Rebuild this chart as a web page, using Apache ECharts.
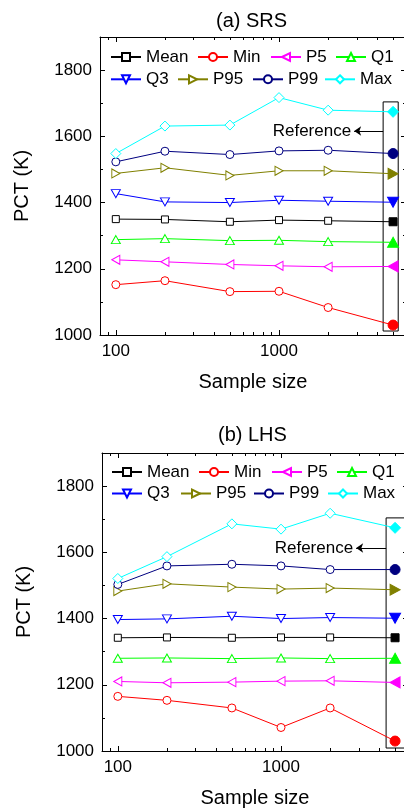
<!DOCTYPE html>
<html><head><meta charset="utf-8">
<script src="https://cdn.jsdelivr.net/npm/echarts@6/dist/echarts.min.js"></script>
<style>html,body{margin:0;padding:0;background:#fff}#c{width:404px;height:811px}</style>
</head><body><div id="c"></div>
<script>
// ---- data ----
const sampleSizes = [100, 200, 500, 1000, 2000];
const referenceSize = 5000;
const seriesNames = ['Mean', 'Min', 'P5', 'Q1', 'Q3', 'P95', 'P99', 'Max'];
const referenceValues = [1342, 1030, 1207, 1280, 1401, 1487, 1548, 1674];

const srsMean = [1350, 1349, 1342, 1347, 1345];
const srsMin  = [1152, 1164, 1131, 1132, 1083];
const srsP5   = [1227, 1221, 1213, 1209, 1206];
const srsQ1   = [1288, 1291, 1285, 1286, 1282];
const srsQ3   = [1427, 1402, 1400, 1407, 1404];
const srsP95  = [1488, 1505, 1482, 1496, 1496];
const srsP99  = [1523, 1555, 1545, 1556, 1558];
const srsMax  = [1548, 1631, 1634, 1717, 1679];

const lhsMean = [1342, 1343, 1342, 1343, 1343];
const lhsMin  = [1165, 1153, 1130, 1071, 1130];
const lhsP5   = [1210, 1206, 1208, 1211, 1212];
const lhsQ1   = [1280, 1281, 1279, 1281, 1279];
const lhsQ3   = [1397, 1399, 1407, 1400, 1403];
const lhsP95  = [1483, 1505, 1495, 1489, 1492];
const lhsP99  = [1503, 1559, 1564, 1559, 1548];
const lhsMax  = [1521, 1587, 1686, 1670, 1718];

const panelTitles = ['(a) SRS', '(b) LHS'];
const xMajorTicks = [100, 1000];
const xMinorTicks = [90, 200, 300, 400, 500, 600, 700, 800, 900, 2000, 3000, 4000, 5000];
const yMajorTicks = [1000, 1200, 1400, 1600, 1800];
const yMinorTicks = [1100, 1300, 1500, 1700];
const referenceLabel = 'Reference';

// ---- styles / layout ----
const FONT = 'Liberation Sans, Arial, Helvetica, sans-serif';
const colors = ['#000000', '#ff0000', '#ff00ff', '#00ff00', '#0000ff', '#808000', '#000080', '#00ffff'];
const symbols = ['rect', 'circle', 'triangle', 'triangle', 'triangle', 'triangle', 'circle', 'diamond'];
const rotates = [0, 0, 90, 0, 180, -90, 0, 0];
const sizes = [7, 8, [9, 8], [9, 8], [9, 8], [9, 8], 8, 10];
const refSizes = [8, 10, [11, 10], [11, 10], [11, 10], [11, 10], 10, 11];

const panelData = [
  [srsMean, srsMin, srsP5, srsQ1, srsQ3, srsP95, srsP99, srsMax],
  [lhsMean, lhsMin, lhsP5, lhsQ1, lhsQ3, lhsP95, lhsP99, lhsMax]
];
const grids = [
  { left: 100, top: 37, width: 306, height: 298, outerBoundsMode: 'none', containLabel: false },
  { left: 102, top: 453, width: 306, height: 298, outerBoundsMode: 'none', containLabel: false }
];
const titlePos = [{ left: 216, top: 11 }, { left: 218, top: 425 }];
const legendLeft = [
  [110, 197, 270, 335, 110, 177, 252, 324],
  [111, 198, 271, 336, 111, 180, 253, 327]
];
const legendTop = [[48.5, 70.8], [463.5, 485]];
const boxes = [
  [[4345, 1012], [5375, 1704]],
  [[4405, 1009], [6000, 1704]]
];
const arrows = [
  [[4345, 1616], [2886, 1616]],
  [[4405, 1613], [2886, 1613]]
];

const option = {
  animation: false,
  backgroundColor: '#fff',
  title: [], grid: [], xAxis: [], yAxis: [], legend: [], series: []
};

const plain = v => String(v);
const black = { color: '#000', width: 1 };
panelData.forEach((data, p) => {
  option.title.push({
    text: panelTitles[p], left: titlePos[p].left, top: titlePos[p].top, padding: 0,
    textStyle: { fontSize: 20, fontWeight: 'normal', color: '#000', fontFamily: FONT }
  });
  option.grid.push(Object.assign({}, grids[p]));
  option.grid.push(Object.assign({}, grids[p]));
  const gMain = 2 * p, gOver = 2 * p + 1;
  const xBase = { type: 'log', logBase: 10, min: 80, max: 6000, splitLine: { show: false } };
  option.xAxis.push(Object.assign({}, xBase, {
    gridIndex: gMain, position: 'bottom',
    axisLine: { show: true, lineStyle: black },
    axisTick: { show: true, inside: true, length: 5, customValues: xMajorTicks, lineStyle: black },
    axisLabel: { show: true, customValues: xMajorTicks, formatter: plain, fontSize: 17, color: '#000', margin: 8, fontFamily: FONT },
    name: 'Sample size', nameLocation: 'middle', nameGap: 37,
    nameTextStyle: { fontSize: 20, color: '#000', fontFamily: FONT }
  }));
  option.xAxis.push(Object.assign({}, xBase, {
    gridIndex: gMain, position: 'top',
    axisLine: { show: true, lineStyle: black },
    axisTick: { show: true, inside: true, length: 5, customValues: xMajorTicks, lineStyle: black },
    axisLabel: { show: false }
  }));
  ['bottom', 'top'].forEach(pos => {
    option.xAxis.push(Object.assign({}, xBase, {
      gridIndex: gOver, position: pos,
      axisLine: { show: false },
      axisTick: { show: true, inside: true, length: 3, customValues: xMinorTicks, lineStyle: black },
      axisLabel: { show: false }
    }));
  });
  const yBase = { type: 'value', min: 1000, max: 1900, splitLine: { show: false } };
  option.yAxis.push(Object.assign({}, yBase, {
    gridIndex: gMain, position: 'left',
    axisLine: { show: true, lineStyle: black },
    axisTick: { show: true, inside: true, length: 5, customValues: yMajorTicks, lineStyle: black },
    axisLabel: { show: true, customValues: yMajorTicks, formatter: plain, fontSize: 17, color: '#000', margin: 8, fontFamily: FONT },
    name: 'PCT (K)', nameLocation: 'middle', nameGap: 68,
    nameTextStyle: { fontSize: 20, color: '#000', fontFamily: FONT }
  }));
  option.yAxis.push(Object.assign({}, yBase, {
    gridIndex: gMain, position: 'right',
    axisLine: { show: true, lineStyle: black },
    axisTick: { show: true, inside: true, length: 5, customValues: yMajorTicks, lineStyle: black },
    axisLabel: { show: false }
  }));
  ['left', 'right'].forEach(pos => {
    option.yAxis.push(Object.assign({}, yBase, {
      gridIndex: gOver, position: pos,
      axisLine: { show: false },
      axisTick: { show: true, inside: true, length: 3, customValues: yMinorTicks, lineStyle: black },
      axisLabel: { show: false }
    }));
  });

  seriesNames.forEach((name, i) => {
    const c = colors[i];
    const pts = sampleSizes.map((x, k) => [x, data[i][k]]);
    pts.push({
      value: [referenceSize, referenceValues[i]],
      symbolSize: refSizes[i],
      itemStyle: { color: c, borderColor: c, borderWidth: 1 }
    });
    const s = {
      type: 'line', name: name,
      xAxisIndex: 4 * p, yAxisIndex: 4 * p,
      data: pts,
      symbol: symbols[i], symbolSize: sizes[i], symbolRotate: rotates[i],
      showAllSymbol: true,
      itemStyle: { color: '#fff', borderColor: c, borderWidth: 1 },
      lineStyle: { color: c, width: 1 },
      emphasis: { disabled: true }
    };
    if (i === 0) {
      s.markArea = {
        silent: true,
        itemStyle: { color: 'rgba(0,0,0,0)', borderColor: '#000', borderWidth: 1 },
        label: { show: false },
        data: [[{ coord: boxes[p][0] }, { coord: boxes[p][1] }]]
      };
      s.markLine = {
        silent: true,
        symbol: ['none', 'arrow'], symbolSize: 7,
        lineStyle: { color: '#000', width: 1, type: 'solid' },
        label: { show: true, position: 'end', formatter: referenceLabel, fontSize: 17, color: '#000', fontFamily: FONT, distance: 3 },
        data: [[{ coord: arrows[p][0] }, { coord: arrows[p][1] }]]
      };
    }
    option.series.push(s);

    option.legend.push({
      data: [name],
      left: legendLeft[p][i], top: legendTop[p][i < 4 ? 0 : 1],
      padding: 0, itemGap: 0, itemWidth: 30, itemHeight: 10,
      selectedMode: false,
      textStyle: { fontSize: 17, color: '#000', fontFamily: FONT, lineHeight: 17 }
    });
  });
});

const chart = echarts.init(document.getElementById('c'), null, { renderer: 'canvas' });
chart.setOption(option);
</script>
</body></html>
